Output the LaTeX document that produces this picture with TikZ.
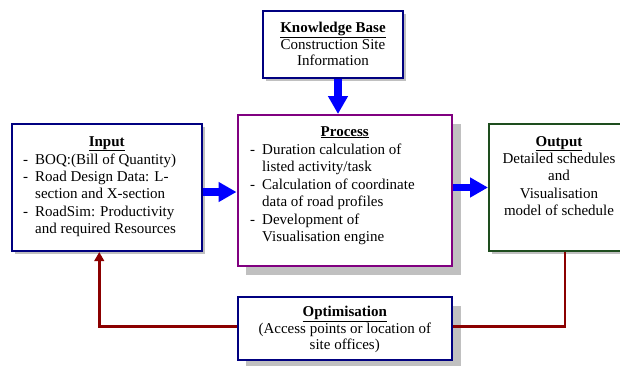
\documentclass[tikz,border=0pt]{standalone}
\usepackage{fontspec}
\setmainfont{Liberation Serif}
\usetikzlibrary{arrows.meta,shadows}
\definecolor{navyb}{HTML}{000080}
\definecolor{purpb}{HTML}{800080}
\definecolor{greenb}{HTML}{1E4D1E}
\definecolor{redl}{HTML}{8B0000}
\definecolor{shadowgray}{HTML}{C0C0C0}
\definecolor{arrowblue}{HTML}{0000FF}
\tikzset{
  box/.style={draw, line width=2pt, fill=white, inner sep=0pt, minimum width=#1},
  smallshadow/.style={drop shadow={shadow xshift=3pt, shadow yshift=-3pt, fill=shadowgray, opacity=1}},
  bigshadow/.style={drop shadow={shadow xshift=8.5pt, shadow yshift=-8.5pt, fill=shadowgray, opacity=1}},
  txt/.style={anchor=base, inner sep=0pt, font=\fontsize{15}{17}\selectfont},
  ltxt/.style={anchor=base west, inner sep=0pt, font=\fontsize{15}{17}\selectfont},
  bluearrow/.style={draw=arrowblue, line width=7.5pt, -{Triangle[length=18pt,width=19pt]}},
  redline/.style={draw=redl, line width=2.7pt},
  redarrow/.style={redline, -{Triangle[length=9pt,width=9.5pt]}}
}
\newcommand{\ttl}[1]{\underline{\textbf{#1}}}
\newcommand{\dsh}{\makebox[12pt][l]{-}}
\begin{document}
\begin{tikzpicture}[x=1pt,y=-1pt]
\useasboundingbox (0,0) rectangle (620,365);
\clip (0,0) rectangle (620,365);
% boxes
\node[box=140pt, minimum height=67pt, draw=navyb, smallshadow] (kb) at (333,44.5) {};
\node[box=190.5pt, minimum height=127pt, draw=navyb, smallshadow] (input) at (106.75,187.5) {};
\node[box=214.5pt, minimum height=151pt, draw=purpb, bigshadow] (process) at (344.75,190.5) {};
\node[box=140pt, minimum height=127pt, draw=greenb, smallshadow] (output) at (559,187.5) {};
\node[box=214.5pt, minimum height=63pt, draw=navyb, bigshadow] (opt) at (344.75,328.5) {};
% connectors
\draw[bluearrow] ([xshift=5pt]kb.south) -- ([xshift=5pt]kb.south |- process.north);
\draw[bluearrow] ([yshift=-4.5pt]input.east) -- ([yshift=-4.5pt]input.east -| process.west);
\draw[bluearrow] ([yshift=3pt]process.east) -- ([yshift=3pt]process.east -| output.west);
\draw[redarrow] ([yshift=2pt]opt.west) -| ([xshift=-7.5pt]input.south);
\draw[redline] ([yshift=2pt]opt.east) -| ([xshift=6pt]output.south);
% knowledge base text
\node[txt] (kb0) at (333,32) {\ttl{Knowledge Base}};
\node[txt] (kb1) at (333,49) {Construction Site};
\node[txt] (kb2) at (333,65.5) {Information};
% input text
\node[txt] (in0) at (106.75,146) {\ttl{Input}};
\node[ltxt] (in1) at (23,164) {\dsh BOQ:(Bill of Quantity)};
\node[ltxt] (in2) at (23,181.5) {\dsh Road Design Data: L-};
\node[ltxt] (in3) at (35,198.5) {section and X-section};
\node[ltxt] (in4) at (23,216) {\dsh RoadSim: Productivity};
\node[ltxt] (in5) at (35,233) {and required Resources};
% process text
\node[txt] (pr0) at (344.75,136) {\ttl{Process}};
\node[ltxt] (pr1) at (250,154) {\dsh Duration calculation of};
\node[ltxt] (pr2) at (262,171.5) {listed activity/task};
\node[ltxt] (pr3) at (250,189) {\dsh Calculation of coordinate};
\node[ltxt] (pr4) at (262,206.5) {data of road profiles};
\node[ltxt] (pr5) at (250,224) {\dsh Development of};
\node[ltxt] (pr6) at (262,241.5) {Visualisation engine};
% output text
\node[txt] (ou0) at (559,146) {\ttl{Output}};
\node[txt] (ou1) at (559,163) {Detailed schedules};
\node[txt] (ou2) at (559,180.5) {and};
\node[txt] (ou3) at (559,198) {Visualisation};
\node[txt] (ou4) at (559,215.5) {model of schedule};
% optimisation text
\node[txt] (op0) at (344.75,316.5) {\ttl{Optimisation}};
\node[txt] (op1) at (344.75,333) {(Access points or location of};
\node[txt] (op2) at (344.75,349) {site offices)};
\end{tikzpicture}
\end{document}
